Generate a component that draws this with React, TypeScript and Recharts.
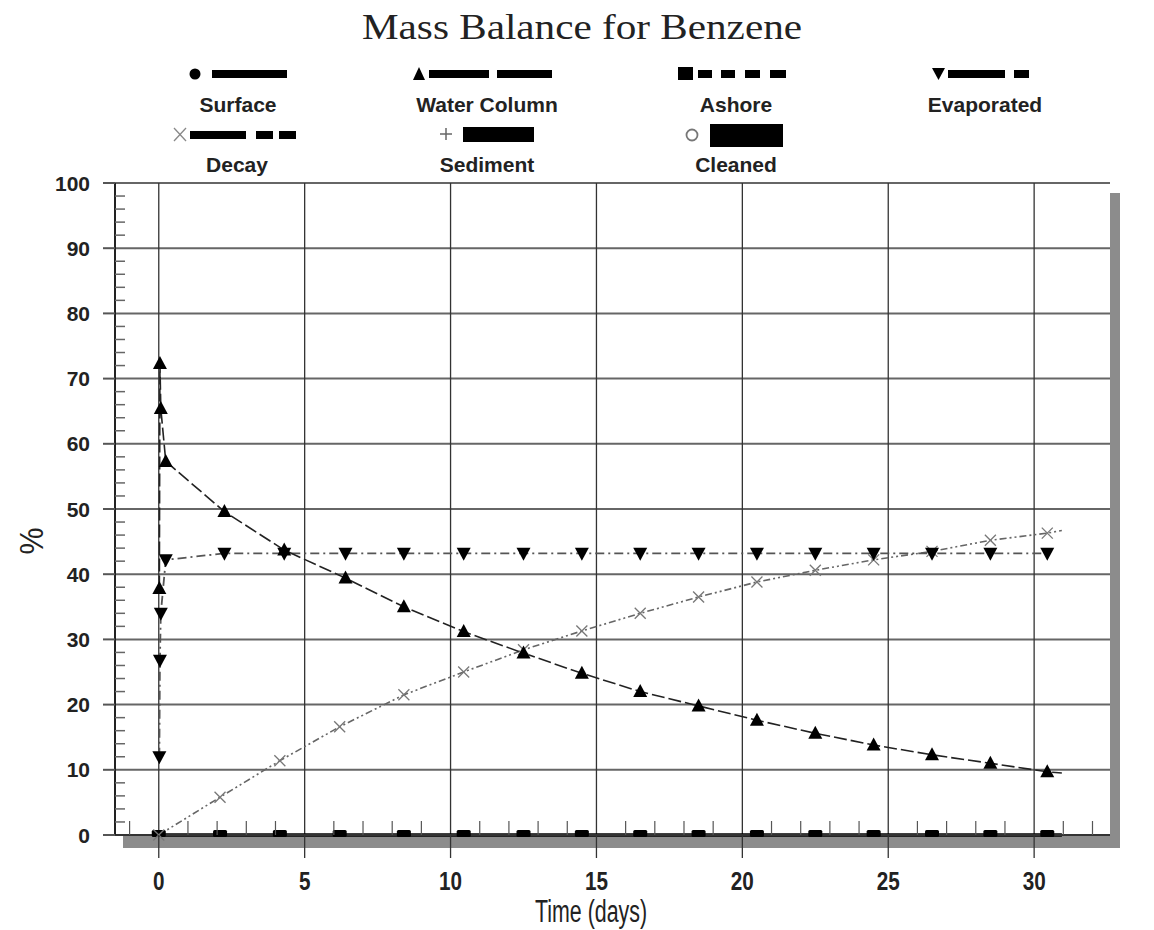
import React from 'react'
import { LineChart, Line, XAxis, YAxis, CartesianGrid } from 'recharts'

// days at which the model wrote water column / evaporated values
const outputDays = [0.02, 0.04, 0.07, 0.24, 2.25, 4.3, 6.4, 8.4, 10.45, 12.5, 14.5, 16.5, 18.5, 20.5, 22.5, 24.5, 26.5, 28.5, 30.45, 30.95]
const waterColumn = [37.8, 72.3, 65.4, 57.3, 49.6, 43.7, 39.4, 35.0, 31.2, 27.9, 24.8, 22.0, 19.8, 17.6, 15.6, 13.8, 12.3, 11.0, 9.7, 9.5]
const evaporated = [12.0, 26.8, 34.0, 42.2, 43.2, 43.2, 43.2, 43.2, 43.2, 43.2, 43.2, 43.2, 43.2, 43.2, 43.2, 43.2, 43.2, 43.2, 43.2, null]

// days for the other compartments
const sampleDays = [0, 2.1, 4.15, 6.2, 8.4, 10.45, 12.5, 14.5, 16.5, 18.5, 20.5, 22.5, 24.5, 26.5, 28.5, 30.45, 30.95]
const decay = [0, 5.8, 11.4, 16.6, 21.5, 25.0, 28.4, 31.3, 34.0, 36.5, 38.8, 40.6, 42.2, 43.5, 45.2, 46.3, 46.7]
const ashore = [0, 0, 0, 0, 0, 0, 0, 0, 0, 0, 0, 0, 0, 0, 0, 0, 0]
const surface = [0, 0, 0, 0, 0, 0, 0, 0, 0, 0, 0, 0, 0, 0, 0, 0, 0]
const sediment = [0, 0, 0, 0, 0, 0, 0, 0, 0, 0, 0, 0, 0, 0, 0, 0, 0]
const cleaned = [0, 0, 0, 0, 0, 0, 0, 0, 0, 0, 0, 0, 0, 0, 0, 0, 0]

const dayTicks = [-1, 0, 1, 2, 3, 4, 5, 6, 7, 8, 9, 10, 11, 12, 13, 14, 15, 16, 17, 18, 19, 20, 21, 22, 23, 24, 25, 26, 27, 28, 29, 30, 31, 32]
const dayGrid = [0, 5, 10, 15, 20, 25, 30]
const percentTicks = [0, 2, 4, 6, 8, 10, 12, 14, 16, 18, 20, 22, 24, 26, 28, 30, 32, 34, 36, 38, 40, 42, 44, 46, 48, 50, 52, 54, 56, 58, 60, 62, 64, 66, 68, 70, 72, 74, 76, 78, 80, 82, 84, 86, 88, 90, 92, 94, 96, 98, 100]
const percentGrid = [10, 20, 30, 40, 50, 60, 70, 80, 90, 100]

const toRows = (days: number[], values: (number | null)[]) => days.map((day, i) => ({ day, value: values[i] }))

const SANS = "'Liberation Sans', Arial, sans-serif"

const hidden = (p: any, n: number) => p.cx == null || p.cy == null || p.index === n - 1

const triUp = (p: any) =>
  hidden(p, outputDays.length) ? <g key={p.index} /> : (
    <path key={p.index} d={`M${p.cx},${p.cy - 7.5} L${p.cx + 7},${p.cy + 5.5} L${p.cx - 7},${p.cy + 5.5} Z`} fill="#000" />
  )

const triDown = (p: any) =>
  hidden(p, outputDays.length) ? <g key={p.index} /> : (
    <path key={p.index} d={`M${p.cx},${p.cy + 7.5} L${p.cx + 7},${p.cy - 5.5} L${p.cx - 7},${p.cy - 5.5} Z`} fill="#000" />
  )

const cross = (p: any) =>
  hidden(p, sampleDays.length) ? <g key={p.index} /> : (
    <g key={p.index} stroke="#777" strokeWidth={1.3}>
      <line x1={p.cx - 5.5} y1={p.cy - 5.5} x2={p.cx + 5.5} y2={p.cy + 5.5} />
      <line x1={p.cx - 5.5} y1={p.cy + 5.5} x2={p.cx + 5.5} y2={p.cy - 5.5} />
    </g>
  )

const square = (p: any) =>
  hidden(p, sampleDays.length) ? <g key={p.index} /> : (
    <rect key={p.index} x={p.cx - 7} y={p.cy - 5} width={14} height={7} rx={1.5} fill="#000" />
  )

const XTick = (props: any) => {
  const { x, y, payload } = props
  const v = payload.value
  if (v % 5 === 0) {
    const w = String(v).length * 11.5
    return (
      <g>
        <line x1={x} x2={x} y1={y} y2={y + 23} stroke="#333" strokeWidth={1.3} />
        <text x={x} y={y + 55} textAnchor="middle" fontFamily={SANS} fontWeight="bold" fontSize={26} textLength={w} lengthAdjust="spacingAndGlyphs" fill="#222">{v}</text>
      </g>
    )
  }
  return <line x1={x} x2={x} y1={y} y2={y - 14} stroke="#555" strokeWidth={1.2} />
}

const YTick = (props: any) => {
  const { x, y, payload } = props
  const v = payload.value
  if (v % 10 === 0) {
    return (
      <g>
        <line x1={x - 12} x2={x} y1={y} y2={y} stroke="#555" strokeWidth={2} />
        <text x={x - 25} y={y + 7.5} textAnchor="end" fontFamily={SANS} fontWeight="bold" fontSize={21} fill="#222">{v}</text>
      </g>
    )
  }
  return <line x1={x} x2={x + 10} y1={y} y2={y} stroke="#666" strokeWidth={1.5} />
}

const label = (x: number, y: number, t: string) => (
  <text x={x} y={y} textAnchor="middle" fontFamily={SANS} fontWeight="bold" fontSize={21} fill="#222">{t}</text>
)

const Overlay = () => (
  <svg width={1154} height={930} style={{ position: 'absolute', left: 0, top: 0, pointerEvents: 'none' }}>
    <text x={582} y={39} textAnchor="middle" fontFamily="'Liberation Serif', 'Times New Roman', serif" fontSize={36} textLength={440} lengthAdjust="spacingAndGlyphs" fill="#222">
      Mass Balance for Benzene
    </text>

    {/* row 1 */}
    <circle cx={195} cy={74} r={5.5} fill="#000" />
    <rect x={212} y={70} width={75} height={8} fill="#000" />
    {label(238, 112, 'Surface')}

    <path d="M419,67 L425,80 L413,80 Z" fill="#000" />
    <rect x={429} y={70} width={60} height={8} fill="#000" />
    <rect x={497} y={70} width={55} height={8} fill="#000" />
    {label(487, 112, 'Water Column')}

    <rect x={678} y={67} width={15} height={13} fill="#000" />
    <rect x={698} y={70} width={14} height={8} fill="#000" />
    <rect x={721} y={70} width={14} height={8} fill="#000" />
    <rect x={745} y={70} width={15} height={8} fill="#000" />
    <rect x={770} y={70} width={16} height={8} fill="#000" />
    {label(736, 112, 'Ashore')}

    <path d="M932,68 L945,68 L938.5,80 Z" fill="#000" />
    <rect x={948} y={70} width={57} height={8} fill="#000" />
    <rect x={1014} y={70} width={15} height={8} fill="#000" />
    {label(985, 112, 'Evaporated')}

    {/* row 2 */}
    <g stroke="#888" strokeWidth={1.3}>
      <line x1={174} y1={128} x2={186} y2={141} />
      <line x1={174} y1={141} x2={186} y2={128} />
    </g>
    <rect x={190} y={131} width={56} height={8} fill="#000" />
    <rect x={256} y={131} width={17} height={8} fill="#000" />
    <rect x={279} y={131} width={17} height={8} fill="#000" />
    {label(237, 172, 'Decay')}

    <g stroke="#666" strokeWidth={1.5}>
      <line x1={440} y1={134} x2={452} y2={134} />
      <line x1={446} y1={128} x2={446} y2={140} />
    </g>
    <rect x={463} y={127} width={71} height={15} fill="#000" />
    {label(487, 172, 'Sediment')}

    <circle cx={692} cy={135} r={5.5} fill="none" stroke="#777" strokeWidth={1.8} />
    <rect x={710} y={124} width={73} height={23} fill="#000" />
    {label(736, 172, 'Cleaned')}

    <text x={591} y={922} textAnchor="middle" fontFamily={SANS} fontSize={31} textLength={112} lengthAdjust="spacingAndGlyphs" fill="#222">
      Time (days)
    </text>
    <text x={31} y={541} transform="rotate(-90 31 541)" textAnchor="middle" dominantBaseline="central" fontFamily={SANS} fontSize={34} textLength={27} lengthAdjust="spacingAndGlyphs" fill="#222">%</text>
  </svg>
)

export default function App() {
  const wc = toRows(outputDays, waterColumn)
  const ev = toRows(outputDays, evaporated)
  const dc = toRows(sampleDays, decay)
  const ash = toRows(sampleDays, ashore)
  const sur = toRows(sampleDays, surface)
  const sed = toRows(sampleDays, sediment)
  const cln = toRows(sampleDays, cleaned)

  return (
    <div style={{ position: 'absolute', left: 0, top: 0, width: 1154, height: 930, background: '#fff', overflow: 'hidden' }}>
      {/* drop shadow and plot face */}
      <div style={{ position: 'absolute', left: 123, top: 193, width: 997, height: 655, background: '#8c8c8c' }} />
      <div style={{ position: 'absolute', left: 115, top: 183, width: 995, height: 652, background: '#fff' }} />
      <div style={{ position: 'absolute', left: 0, top: 0 }}>
        <LineChart width={1154} height={930} margin={{ top: 183, right: 44, bottom: 35, left: 0 }}>
          <CartesianGrid horizontal vertical={false} horizontalValues={percentGrid} stroke="#666" strokeWidth={2} />
          <CartesianGrid horizontal={false} vertical verticalValues={dayGrid} stroke="#333" strokeWidth={1.3} />
          <XAxis
            type="number"
            dataKey="day"
            domain={[-1.5, 32.6]}
            ticks={dayTicks}
            interval={0}
            height={60}
            tickSize={0}
            tickMargin={0}
            tickLine={false}
            tick={XTick}
            axisLine={{ stroke: '#333', strokeWidth: 2 }}
          />
          <YAxis
            type="number"
            domain={[0, 100]}
            ticks={percentTicks}
            interval={0}
            width={115}
            tickSize={0}
            tickMargin={0}
            tickLine={false}
            tick={YTick}
            axisLine={{ stroke: '#222', strokeWidth: 2 }}
          />
          <YAxis yAxisId="frame" orientation="right" domain={[0, 100]} width={0} tick={false} tickLine={false} axisLine={{ stroke: '#777', strokeWidth: 2 }} />

          <Line data={sur} dataKey="value" name="Surface" stroke="#000" strokeWidth={1.5} dot={false} isAnimationActive={false} />
          <Line data={sed} dataKey="value" name="Sediment" stroke="#000" strokeWidth={3} dot={false} isAnimationActive={false} />
          <Line data={cln} dataKey="value" name="Cleaned" stroke="#000" strokeWidth={3} dot={false} isAnimationActive={false} />
          <Line data={ash} dataKey="value" name="Ashore" stroke="#000" strokeWidth={2} strokeDasharray="6 4" dot={square} isAnimationActive={false} />
          <Line data={dc} dataKey="value" name="Decay" stroke="#666" strokeWidth={1.6} strokeDasharray="7 3 2 3 2 3" dot={cross} isAnimationActive={false} />
          <Line data={ev} dataKey="value" name="Evaporated" stroke="#555" strokeWidth={1.8} strokeDasharray="9 4 2 4" dot={triDown} isAnimationActive={false} />
          <Line data={wc} dataKey="value" name="Water Column" stroke="#222" strokeWidth={1.6} strokeDasharray="13 4" dot={triUp} isAnimationActive={false} />
        </LineChart>
      </div>
      <Overlay />
    </div>
  )
}
